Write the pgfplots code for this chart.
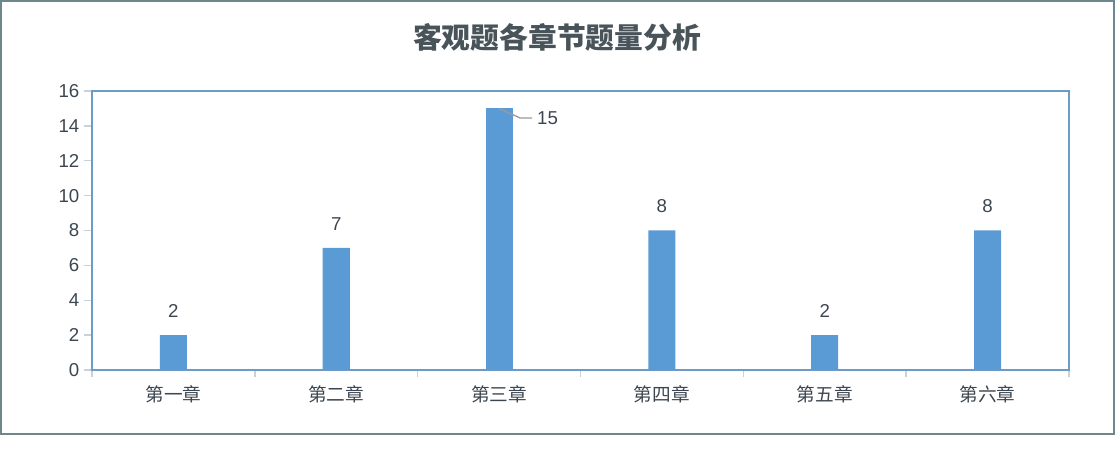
\documentclass[border=0pt]{standalone}
\usepackage{fontspec}
\setmainfont{Liberation Sans}
\newfontfamily\cjk{Noto Sans CJK SC}
\usepackage{pgfplots}
\pgfplotsset{compat=1.18}
\definecolor{barcol}{RGB}{91,155,213}
\definecolor{axiscol}{RGB}{108,155,200}
\definecolor{framecol}{RGB}{110,135,140}
\definecolor{titlecol}{RGB}{72,84,90}
\definecolor{textcol}{RGB}{60,70,80}
\definecolor{tickcol}{RGB}{200,210,218}

\begin{document}
\begin{tikzpicture}
\path[use as bounding box] (0,0) rectangle (836.25pt,337.5pt);
\draw[framecol, line width=1.5pt] (0.75pt,12pt) rectangle (835.5pt,336.75pt);
\node[font=\cjk\bfseries\fontsize{21.6}{24}\selectfont, text=titlecol] at (417.75pt,309.75pt) {客观题各章节题量分析};
\begin{axis}[
    at={(69pt,60pt)}, anchor=south west,
    scale only axis,
    width=732.75pt, height=209.25pt,
    xmin=-0.5, xmax=5.5,
    ymin=0, ymax=16,
    ytick={0,2,...,16},
    xtick={0,...,5},
    xticklabels={第一章,第二章,第三章,第四章,第五章,第六章},
    minor xtick={-0.5,0.5,...,5.5},
    xtick pos=left, ytick pos=left,
    tick align=outside,
    major x tick style={draw=none},
    minor x tick style={draw=tickcol, line width=1pt},
    minor tick length=5pt,
    ytick style={draw=tickcol, line width=1pt},
    major tick length=6pt,
    axis line style={draw=axiscol, line width=1.2pt},
    /pgf/number format/assume math mode=true,
    yticklabel style={font=\fontsize{14}{16}\selectfont, text=textcol},
    xticklabel style={font=\cjk\fontsize{14}{16}\selectfont, text=textcol, yshift=-2pt},
]
\addplot[ybar, bar width=20.25pt, bar shift=0pt, fill=barcol, draw=none,
    nodes near coords,
    nodes near coords style={font=\fontsize{14}{16}\selectfont, text=textcol, anchor=center, yshift=18pt}]
    coordinates {(0,2) (1,7) (3,8) (4,2) (5,8)};
\addplot[ybar, bar width=20.25pt, bar shift=0pt, fill=barcol, draw=none]
    coordinates {(2,15)};
\draw[gray!80, line width=1pt] (axis cs:2.0,15) -- (axis cs:2.13,14.45) -- (axis cs:2.203,14.45)
    node[anchor=west, font=\fontsize{14}{16}\selectfont, text=textcol] {15};
\end{axis}
\end{tikzpicture}
\end{document}
